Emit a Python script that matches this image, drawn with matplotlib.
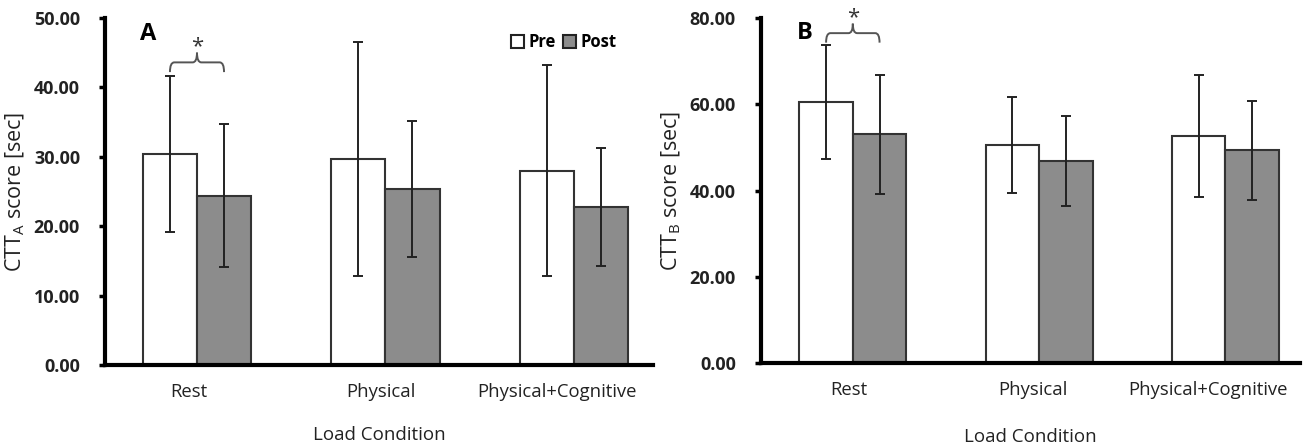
import matplotlib
matplotlib.use("Agg")
import matplotlib.pyplot as plt
import numpy as np
from matplotlib.path import Path
from matplotlib.patches import PathPatch, Patch

categories = ["Rest", "Physical", "Physical+Cognitive"]

a_pre = [30.4, 29.7, 28.0]
a_pre_sd = [11.2, 16.9, 15.2]
a_post = [24.4, 25.3, 22.7]
a_post_sd = [10.3, 9.8, 8.5]

b_pre = [60.6, 50.5, 52.6]
b_pre_sd = [13.2, 11.1, 14.2]
b_post = [53.0, 46.8, 49.3]
b_post_sd = [13.8, 10.5, 11.5]

a_yticks = [0, 10, 20, 30, 40, 50]
b_yticks = [0, 20, 40, 60, 80]

FONT = "Open Sans"
plt.rcParams["font.family"] = [FONT, "DejaVu Sans"]
plt.rcParams["mathtext.fontset"] = "custom"
plt.rcParams["mathtext.rm"] = FONT
plt.rcParams["mathtext.it"] = FONT

fig = plt.figure(figsize=(13.03, 4.48), dpi=100)
axA = fig.add_axes([0.0806, 0.1853, 0.4206, 0.7746])
axB = fig.add_axes([0.584, 0.1897, 0.4137, 0.770])

W = 0.287
EDGE = "#333333"
GREY = "#8c8c8c"
TXT = "#222222"


def brace(ax, x0, x1, y, h):
    xm = (x0 + x1) / 2
    q = (x1 - x0) * 0.08
    path_v = [
        (x0, y - h), (x0, y), (x0 + q, y),
        (xm - q, y),
        (xm, y), (xm, y + h),
        (xm, y), (xm + q, y),
        (x1 - q, y),
        (x1, y), (x1, y - h),
    ]
    codes = [Path.MOVETO, Path.CURVE3, Path.CURVE3,
             Path.LINETO,
             Path.CURVE3, Path.CURVE3,
             Path.CURVE3, Path.CURVE3,
             Path.LINETO,
             Path.CURVE3, Path.CURVE3]
    ax.add_patch(PathPatch(Path(path_v, codes), fill=False, lw=1.4,
                           edgecolor="#555555", zorder=5))


def panel(ax, pre, pre_sd, post, post_sd, yticks, ylab, letter, xlim,
          brace_y, brace_h, star_y, letter_y, label_shift, xlabel_y):
    x = np.arange(len(categories))
    ax.bar(x - W / 2, pre, W, color="white", edgecolor=EDGE, linewidth=1.5, zorder=2)
    ax.bar(x + W / 2, post, W, color=GREY, edgecolor=EDGE, linewidth=1.5, zorder=2)
    ax.errorbar(x - W / 2, pre, yerr=pre_sd, fmt="none", ecolor=TXT,
                elinewidth=1.4, capsize=3.5, capthick=1.4, zorder=3)
    ax.errorbar(x + W / 2, post, yerr=post_sd, fmt="none", ecolor=TXT,
                elinewidth=1.4, capsize=3.5, capthick=1.4, zorder=3)
    ax.set_xlim(*xlim)
    ax.set_ylim(yticks[0], yticks[-1])
    ax.set_yticks(yticks)
    ax.set_yticklabels([f"{v:.2f}" for v in yticks], fontweight="bold",
                       fontsize=13, color=TXT)
    ax.set_xticks(x)
    ax.set_xticklabels([])
    for xi, cat, dx in zip(x, categories, label_shift):
        ax.annotate(cat, xy=(xi, 0), xycoords=("data", "axes fraction"),
                    xytext=(dx * 0.72, -13), textcoords="offset points",
                    ha="center", va="top", fontsize=13.3, color=TXT)
    ax.tick_params(axis="x", length=0)
    ax.tick_params(axis="y", direction="out", length=4, width=2.5, pad=14)
    for s in ["top", "right"]:
        ax.spines[s].set_visible(False)
    for s in ["left", "bottom"]:
        ax.spines[s].set_linewidth(3)
        ax.spines[s].set_color("black")
    ax.set_ylabel(ylab, fontsize=15.5, color=TXT, labelpad=5)
    ax.set_xlabel("Load Condition", fontsize=13.5, color=TXT)
    ax.xaxis.set_label_coords(0.5, xlabel_y)
    ax.text(-0.26, letter_y, letter, fontsize=17, fontweight="bold",
            ha="center", va="center", color="black")
    brace(ax, -W / 2, W / 2, brace_y, brace_h)
    ax.text(0, star_y, "*", fontsize=16, ha="center", va="center", color="#333333")


panel(axA, a_pre, a_pre_sd, a_post, a_post_sd, a_yticks,
      r"CTT$_{\mathrm{A}}$ score [sec]", "A", (-0.488, 2.42), 43.6, 1.4, 45.8, 47.7,
      [-8, -5, -17], -0.176)
panel(axB, b_pre, b_pre_sd, b_post, b_post_sd, b_yticks,
      r"CTT$_{\mathrm{B}}$ score [sec]", "B", (-0.493, 2.40), 76.5, 2.2, 80.0, 76.5,
      [-4, -6, -17], -0.188)

handles = [Patch(facecolor="white", edgecolor=TXT, linewidth=1.5, label="Pre"),
           Patch(facecolor=GREY, edgecolor=TXT, linewidth=1.5, label="Post")]
axA.legend(handles=handles, loc="upper right", bbox_to_anchor=(0.96, 1.0),
           ncol=2, frameon=False, handlelength=0.8, handleheight=0.8,
           handletextpad=0.25, columnspacing=0.4,
           prop={"family": FONT, "weight": "bold", "size": 12})

fig.savefig("out.png", dpi=100, facecolor="white")
